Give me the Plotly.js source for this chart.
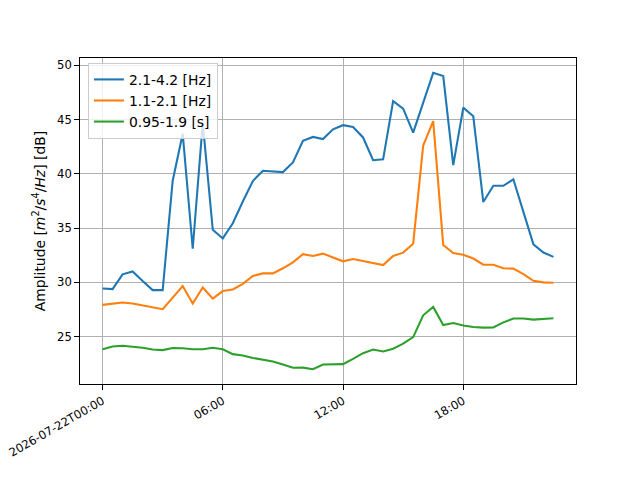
<!DOCTYPE html>
<html>
<head>
<meta charset="utf-8">
<script src="https://cdn.plot.ly/plotly-3.0.1.min.js"></script>
<style>html,body{margin:0;padding:0;background:#fff}#chart{width:640px;height:480px}</style>
</head>
<body>
<div id="chart"></div>
<script>
var times = [
  "2026-07-22 00:00","2026-07-22 00:30","2026-07-22 01:00","2026-07-22 01:30",
  "2026-07-22 02:00","2026-07-22 02:30","2026-07-22 03:00","2026-07-22 03:30",
  "2026-07-22 04:00","2026-07-22 04:30","2026-07-22 05:00","2026-07-22 05:30",
  "2026-07-22 06:00","2026-07-22 06:30","2026-07-22 07:00","2026-07-22 07:30",
  "2026-07-22 08:00","2026-07-22 08:30","2026-07-22 09:00","2026-07-22 09:30",
  "2026-07-22 10:00","2026-07-22 10:30","2026-07-22 11:00","2026-07-22 11:30",
  "2026-07-22 12:00","2026-07-22 12:30","2026-07-22 13:00","2026-07-22 13:30",
  "2026-07-22 14:00","2026-07-22 14:30","2026-07-22 15:00","2026-07-22 15:30",
  "2026-07-22 16:00","2026-07-22 16:30","2026-07-22 17:00","2026-07-22 17:30",
  "2026-07-22 18:00","2026-07-22 18:30","2026-07-22 19:00","2026-07-22 19:30",
  "2026-07-22 20:00","2026-07-22 20:30","2026-07-22 21:00","2026-07-22 21:30",
  "2026-07-22 22:00","2026-07-22 22:30"
];
var band1 = [
  29.44,29.38,30.74,31.0,30.12,29.29,29.29,39.37,43.7,33.1,
  44.7,34.85,34.05,35.45,37.45,39.34,40.28,40.25,40.16,41.05,
  43.04,43.4,43.2,44.1,44.48,44.32,43.35,41.25,41.33,46.7,
  46.0,43.8,46.5,49.3,49.0,40.8,46.1,45.3,37.4,38.9,
  38.9,39.5,36.5,33.5,32.75,32.35
];
var band2 = [
  27.93,28.05,28.15,28.05,27.87,27.65,27.53,28.6,29.66,28.05,
  29.53,28.5,29.2,29.35,29.87,30.6,30.83,30.83,31.3,31.85,
  32.6,32.44,32.65,32.3,31.94,32.16,31.97,31.82,31.6,32.44,
  32.74,33.55,42.6,44.85,33.45,32.7,32.55,32.2,31.63,31.63,
  31.3,31.27,30.77,30.15,30.0,29.97
];
var band3 = [
  23.85,24.1,24.16,24.1,23.98,23.82,23.76,23.95,23.93,23.84,
  23.84,23.98,23.84,23.39,23.27,23.04,22.9,22.71,22.43,22.13,
  22.15,22.0,22.43,22.45,22.47,22.96,23.48,23.82,23.64,23.89,
  24.35,24.96,26.97,27.74,26.07,26.26,26.02,25.89,25.83,25.85,
  26.32,26.67,26.67,26.57,26.6,26.69
];
var seriesNames = ["2.1-4.2 [Hz]", "1.1-2.1 [Hz]", "0.95-1.9 [s]"];
var tickVals = ["2026-07-22 00:00","2026-07-22 06:00","2026-07-22 12:00","2026-07-22 18:00"];
var tickText = ["2026-07-22T00:00","06:00","12:00","18:00"];

var colors = ["#1f77b4", "#ff7f0e", "#2ca02c"];
var ys = [band1, band2, band3];
var traces = ys.map(function (y, i) {
  return {
    x: times, y: y, type: "scatter", mode: "lines", name: seriesNames[i],
    line: {color: colors[i], width: 2.08}
  };
});

var fontFam = "DejaVu Sans, sans-serif";
var tickSize = 11.6;
var layout = {
  width: 640, height: 480,
  margin: {l: 80, r: 64, t: 58, b: 96, pad: 0},
  paper_bgcolor: "#ffffff", plot_bgcolor: "#ffffff",
  font: {family: fontFam, size: 13.9, color: "#000"},
  showlegend: true,
  legend: {
    x: 0.016, y: 0.985, xanchor: "left", yanchor: "top",
    bgcolor: "rgba(255,255,255,0.8)", bordercolor: "#cccccc", borderwidth: 1,
    font: {family: fontFam, size: 13.9, color: "#000"},
    tracegroupgap: 0
  },
  xaxis: {
    type: "date",
    range: ["2026-07-21 22:52:30", "2026-07-22 23:37:30"],
    tickmode: "array", tickvals: tickVals, ticktext: tickText,
    tickangle: -30,
    ticklabeloverflow: "allow",
    tickfont: {family: fontFam, size: tickSize, color: "#000"},
    showgrid: true, gridcolor: "#b0b0b0", gridwidth: 1,
    showline: true, mirror: true, linecolor: "#000", linewidth: 1,
    ticks: "outside", ticklen: 4.9, tickwidth: 1, tickcolor: "#000",
    zeroline: false
  },
  yaxis: {
    range: [20.64, 50.67],
    tickmode: "linear", tick0: 25, dtick: 5,
    tickfont: {family: fontFam, size: tickSize, color: "#000"},
    title: {text: "Amplitude [<i>m</i><sup>2</sup>/<i>s</i><sup>4</sup>/<i>Hz</i>] [dB]",
            font: {family: fontFam, size: 13.9, color: "#000"}, standoff: 8},
    showgrid: true, gridcolor: "#b0b0b0", gridwidth: 1,
    showline: true, mirror: true, linecolor: "#000", linewidth: 1,
    ticks: "outside", ticklen: 4.9, tickwidth: 1, tickcolor: "#000",
    zeroline: false
  }
};
Plotly.newPlot("chart", traces, layout, {displayModeBar: false, staticPlot: true});
</script>
</body>
</html>
